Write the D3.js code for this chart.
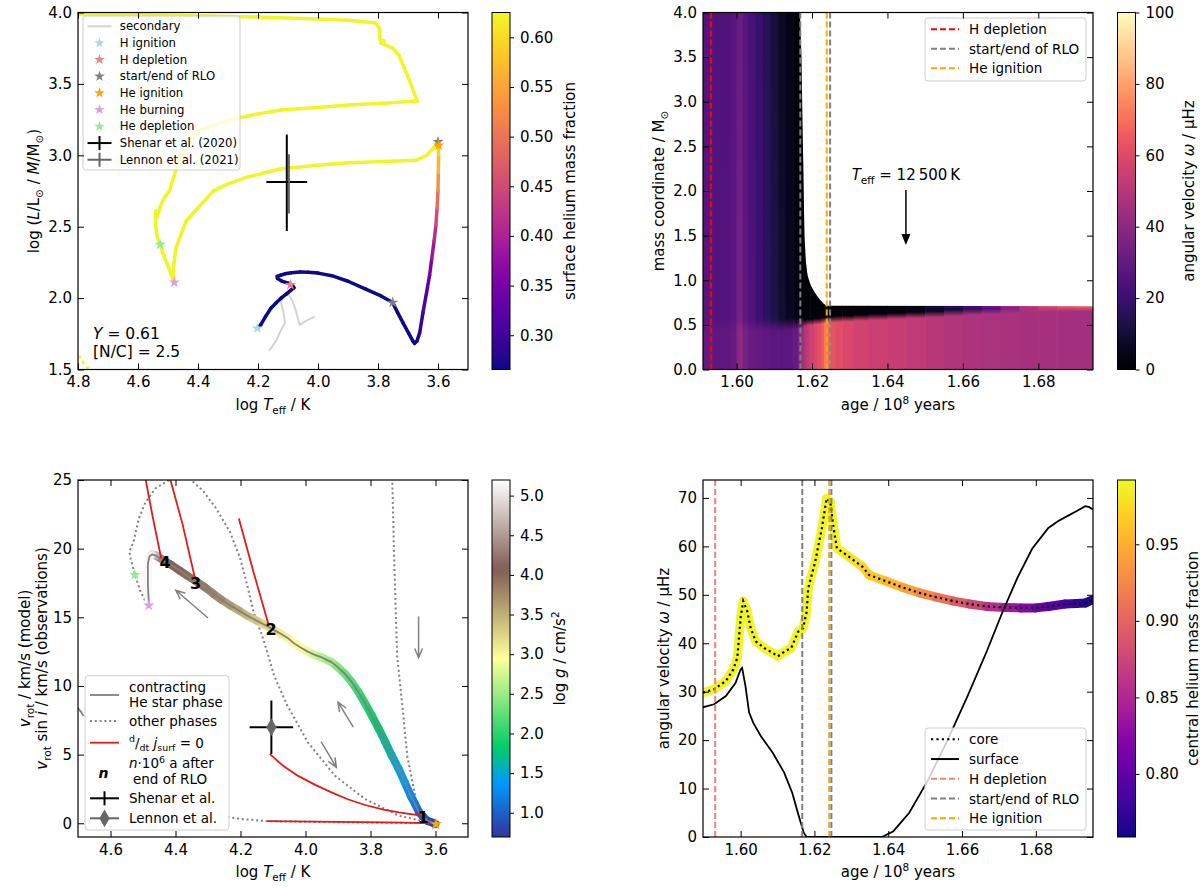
<!DOCTYPE html>
<html>
<head>
<meta charset="utf-8">
<script src="https://cdn.jsdelivr.net/npm/d3@7"></script>
<style>
  body { margin: 0; background: #fff; }
  svg { font-family: "DejaVu Sans", sans-serif; }
</style>
</head>
<body>
<script>
// ---------------- data: top-left (HR-like diagram) ----------------
var trackTeff = [4.202, 4.191, 4.175, 4.157, 4.140, 4.123, 4.105, 4.089, 4.080, 4.085,
  4.100, 4.120, 4.135, 4.136, 4.125, 4.110, 4.089, 4.060, 4.033, 4.000,
  3.954, 3.900, 3.841, 3.790, 3.751, 3.735, 3.717, 3.698, 3.684, 3.678,
  3.670, 3.661, 3.650, 3.638, 3.628, 3.621, 3.613, 3.607, 3.603, 3.600,
  3.599, 3.598, 3.599, 3.600, 3.608, 3.616, 3.638, 3.672, 3.800, 3.898,
  4.000, 4.123, 4.236, 4.300, 4.349, 4.383, 4.410, 4.439, 4.458, 4.473,
  4.480, 4.482, 4.479, 4.490, 4.505, 4.518, 4.526, 4.535, 4.541, 4.542,
  4.540, 4.538, 4.532, 4.522, 4.510, 4.495, 4.462, 4.430, 4.405, 4.350,
  4.293, 4.200, 4.123, 4.000, 3.898, 3.780, 3.669, 3.700, 3.730, 3.751,
  3.791, 3.779, 3.793, 3.796, 3.808, 3.900, 4.000, 4.200, 4.400, 4.600,
  4.800, 4.850];
var trackLM = [1.789, 1.812, 1.870, 1.929, 1.965, 2.000, 2.030, 2.058, 2.072, 2.088,
  2.105, 2.118, 2.138, 2.152, 2.160, 2.170, 2.178, 2.182, 2.181, 2.175,
  2.157, 2.118, 2.063, 2.015, 1.969, 1.900, 1.828, 1.755, 1.700, 1.683,
  1.700, 1.758, 1.900, 2.040, 2.160, 2.274, 2.400, 2.509, 2.630, 2.751,
  2.880, 3.000, 3.070, 3.090, 3.070, 3.047, 3.000, 2.965, 2.955, 2.948,
  2.930, 2.906, 2.847, 2.800, 2.751, 2.669, 2.610, 2.540, 2.440, 2.352,
  2.250, 2.187, 2.110, 2.170, 2.250, 2.320, 2.376, 2.420, 2.500, 2.570,
  2.610, 2.560, 2.600, 2.660, 2.710, 2.751, 2.977, 3.080, 3.165, 3.210,
  3.247, 3.290, 3.317, 3.335, 3.352, 3.365, 3.380, 3.550, 3.700, 3.751,
  3.787, 3.800, 3.810, 3.892, 3.927, 3.945, 3.955, 3.968, 3.978, 3.985,
  3.990, 3.992];
var trackYsurf = [0.266, 0.266, 0.266, 0.266, 0.266, 0.266, 0.266, 0.266, 0.266, 0.266,
  0.266, 0.266, 0.266, 0.266, 0.266, 0.266, 0.266, 0.266, 0.266, 0.266,
  0.266, 0.266, 0.266, 0.266, 0.266, 0.266, 0.266, 0.266, 0.266, 0.266,
  0.270, 0.280, 0.300, 0.320, 0.340, 0.370, 0.400, 0.430, 0.470, 0.510,
  0.550, 0.580, 0.600, 0.620, 0.622, 0.622, 0.622, 0.622, 0.622, 0.622,
  0.622, 0.622, 0.622, 0.622, 0.622, 0.622, 0.622, 0.622, 0.622, 0.622,
  0.622, 0.622, 0.622, 0.622, 0.622, 0.622, 0.622, 0.622, 0.622, 0.622,
  0.622, 0.622, 0.622, 0.622, 0.622, 0.622, 0.622, 0.622, 0.622, 0.622,
  0.622, 0.622, 0.622, 0.622, 0.622, 0.622, 0.622, 0.622, 0.622, 0.622,
  0.622, 0.622, 0.622, 0.622, 0.622, 0.622, 0.622, 0.622, 0.622, 0.622,
  0.622, 0.622];
var wdTeff = [4.794, 4.783, 4.768];
var wdLM = [1.589, 1.554, 1.514];
var secTeff = [4.163, 4.140, 4.123, 4.110, 4.115, 4.124, 4.112, 4.100, 4.085, 4.073, 4.061, 4.040, 4.011];
var secLM = [1.630, 1.700, 1.777, 1.824, 1.900, 1.976, 2.020, 2.035, 1.980, 1.906, 1.812, 1.840, 1.871];
var hrEventTeff = [4.202, 4.092, 3.751, 3.600, 3.598, 4.479, 4.526];
var hrEventLM = [1.789, 2.093, 1.969, 3.094, 3.070, 2.110, 2.376];
var hrEventKind = ["hIgn", "hDep", "rlo", "rlo", "heIgn", "heBurn", "heDep"];
// observations: [centre, lower, upper]
var shenarTeff = [4.104, 4.036, 4.172];
var shenarLM = [2.813, 2.470, 3.146];
var lennonTeff = [4.097, 4.097, 4.097];
var lennonLM = [2.800, 2.592, 3.007];
var tlLegendLabels = ["secondary", "H ignition", "H depletion", "start/end of RLO", "He ignition",
  "He burning", "He depletion", "Shenar et al. (2020)", "Lennon et al. (2021)"];

// ---------------- data: top-right (angular velocity map) ----------------
var heatEdges = [1.5911, 1.5935, 1.5960, 1.5985, 1.6000, 1.6008, 1.6016, 1.6030, 1.6050, 1.6070,
  1.6090, 1.6110, 1.6130, 1.6150, 1.6162, 1.6170, 1.6178, 1.6186, 1.6195, 1.6205,
  1.6215, 1.6225, 1.6232, 1.6240, 1.6250, 1.6262, 1.6280, 1.6310, 1.6350, 1.6400,
  1.6450, 1.6500, 1.6550, 1.6600, 1.6650, 1.6700, 1.6750, 1.6800, 1.6850, 1.6900, 1.6946];
var heatCoreOmega = [30, 29, 29, 31, 39, 41, 34, 31, 30, 29,
  28, 28, 28, 30, 35, 44, 49, 53, 56, 59,
  62, 66, 72, 70, 63, 61, 59, 57, 55, 54,
  52, 50.5, 49, 48, 47, 46.5, 46, 46, 45.5, 45.5];
var heatCoreEdge = [0.50, 0.50, 0.50, 0.50, 0.50, 0.50, 0.50, 0.50, 0.50, 0.50,
  0.50, 0.50, 0.51, 0.51, 0.52, 0.52, 0.52, 0.53, 0.53, 0.54,
  0.54, 0.55, 0.55, 0.56, 0.56, 0.565, 0.57, 0.58, 0.59, 0.60,
  0.61, 0.62, 0.635, 0.645, 0.655, 0.665, 0.672, 0.678, 0.683, 0.686];
var heatEnvOmega = [27, 26, 26, 28, 34, 35, 29, 25, 21, 17,
  13, 9, 6, 4, 3, 2, 2, 2, 2, 2,
  2, 2, 2, 2, 2, 2, 2, 2, 2, 2,
  3, 6, 10, 16, 24, 36, 48, 56, 61, 64];
var heatSurfOmega = [26, 25, 25, 27, 31, 32, 27, 23, 19, 15,
  11, 7, 4, 2, 1, 1, 1, 1, 1, 1,
  1, 1, 1, 1, 1, 1, 1, 1, 1, 2,
  5, 10, 16, 24, 34, 45, 54, 60, 64, 67];
var starAge = [1.5911, 1.6166, 1.6168, 1.6172, 1.6176, 1.6180, 1.6184, 1.6188, 1.6196, 1.6205,
  1.6215, 1.6226, 1.6237, 1.6946];
var starMass = [4.6, 4.6, 4.0, 3.5, 2.5, 1.5, 1.2, 1.06, 0.95, 0.88,
  0.815, 0.76, 0.715, 0.71];
var eventAgeTop = [1.5932, 1.6169, 1.6239, 1.6248];
var eventAgeBottom = [1.5931, 1.6167, 1.6240, 1.6246];
var eventKind = ["hDep", "rlo", "heIgn", "rlo"];

// ---------------- data: bottom-left (rotation velocity) ----------------
var conTeff = [3.600, 3.610, 3.624, 3.637, 3.650, 3.663, 3.676, 3.695, 3.713, 3.735,
  3.754, 3.775, 3.796, 3.817, 3.837, 3.858, 3.879, 3.900, 3.920, 3.952,
  3.975, 3.993, 4.015, 4.035, 4.055, 4.076, 4.095, 4.113, 4.150, 4.180,
  4.205, 4.232, 4.260, 4.284, 4.310, 4.341, 4.365, 4.388, 4.415, 4.445,
  4.461, 4.472, 4.480, 4.485, 4.485, 4.482];
var conVrot = [-0.05, 0.05, 0.17, 0.45, 0.78, 1.40, 2.00, 3.00, 3.95, 4.95,
  5.90, 6.90, 7.85, 8.75, 9.55, 10.30, 10.89, 11.35, 11.74, 12.10,
  12.30, 12.50, 12.80, 13.10, 13.50, 13.80, 14.05, 14.30, 14.75, 15.13,
  15.50, 15.87, 16.30, 16.72, 17.20, 17.69, 18.05, 18.42, 18.85, 19.27,
  19.50, 19.58, 19.45, 18.90, 17.44, 15.98];
var conLogg = [0.75, 0.80, 0.85, 0.90, 1.00, 1.10, 1.20, 1.35, 1.45, 1.55,
  1.65, 1.75, 1.85, 1.95, 2.05, 2.15, 2.25, 2.35, 2.45, 2.60,
  2.70, 2.80, 2.90, 2.95, 3.00, 3.05, 3.10, 3.15, 3.30, 3.40,
  3.50, 3.60, 3.70, 3.80, 3.85, 3.90, 3.95, 4.00, 4.05, 4.15,
  4.50, 4.90, 5.10, 5.15, 5.15, 5.15];
var otherA = {teff: [4.400, 4.419, 4.461, 4.492, 4.513, 4.529, 4.542, 4.538, 4.525, 4.508, 4.487],
  vrot: [25.5, 25.0, 24.4, 23.4, 22.2, 20.5, 19.8, 19.3, 18.1, 16.9, 15.9]};
var otherB = {teff: [4.360, 4.352, 4.315, 4.274, 4.232, 4.201, 4.180, 4.160, 4.134, 4.113, 4.097, 4.056, 3.993, 3.910, 3.817, 3.713, 3.619, 3.600],
  vrot: [25.5, 25.0, 24.2, 22.9, 21.2, 19.3, 17.4, 15.4, 13.7, 12.1, 10.77, 8.58, 5.90, 3.47, 1.77, 0.55, 0.06, 0.0]};
var otherC = {teff: [3.735, 3.733, 3.728, 3.723, 3.718, 3.702, 3.687, 3.660, 3.630, 3.600],
  vrot: [25.5, 25.0, 20.0, 16.0, 12.2, 8.55, 4.90, 1.73, 0.15, 0.0]};
var otherD = {teff: [4.240, 4.200, 4.118, 3.900, 3.700, 3.600],
  vrot: [0.45, 0.32, 0.15, 0.08, 0.03, 0.0]};
var edgePiece = {teff: [4.705, 4.690, 4.683], vrot: [8.5, 8.1, 7.8]};
var jLines = [
  {teff: [4.494, 4.470, 4.444], vrot: [25.3, 22.3, 19.3]},
  {teff: [4.419, 4.378, 4.341], vrot: [25.3, 21.75, 17.94]},
  {teff: [4.205, 4.160, 4.113], vrot: [22.2, 18.3, 14.4]},
  {teff: [4.110, 4.070, 4.024, 3.970, 3.920, 3.870, 3.817, 3.760, 3.713, 3.670, 3.640],
   vrot: [5.05, 4.20, 3.47, 2.80, 2.25, 1.75, 1.33, 1.00, 0.79, 0.65, 0.55]},
  {teff: [4.118, 3.900, 3.700, 3.600], vrot: [0.15, 0.10, 0.05, 0.0]}
];
var runTeff = [3.638, 4.106, 4.338, 4.432];
var runVrot = [0.42, 14.11, 17.47, 18.99];
var runLabel = ["1", "2", "3", "4"];
// direction arrows: [teff0, v0, teff1, v1]
var dirArrows = [[4.300, 14.95, 4.399, 16.97], [3.652, 15.05, 3.652, 12.06],
  [3.853, 7.00, 3.900, 8.82], [3.952, 5.95, 3.905, 4.07]];
var vrEventTeff = [4.525, 4.482, 3.600, 3.598];
var vrEventV = [18.10, 15.87, -0.05, -0.08];
var vrEventKind = ["heDep", "heBurn", "rlo", "heIgn"];
var shenarVTeff = [4.105, 4.038, 4.172];
var shenarV = [7.0, 5.05, 8.94];
var lennonV = [4.105, 7.0];

// ---------------- data: bottom-right (core / surface rotation) ----------------
var coreAge = [1.5898, 1.5928, 1.5960, 1.5980, 1.5991, 1.6000, 1.6007, 1.6018, 1.6027, 1.6041,
  1.6064, 1.6087, 1.6101, 1.6119, 1.6137, 1.6156, 1.6169, 1.6179, 1.6183, 1.6202,
  1.6220, 1.6233, 1.6243, 1.6252, 1.6261, 1.6293, 1.6330, 1.6348, 1.6394, 1.6440,
  1.6485, 1.6530, 1.6577, 1.6620, 1.6668, 1.6715, 1.6760, 1.6800, 1.6834, 1.6879,
  1.6910, 1.6934, 1.6955];
var coreOmega = [29.8, 30.5, 32.2, 34.6, 37.0, 45.3, 48.7, 46.6, 43.2, 40.4,
  39.0, 38.0, 37.3, 38.3, 39.0, 42.4, 43.1, 46.5, 51.3, 56.8,
  63.7, 69.9, 69.2, 63.7, 59.6, 57.9, 55.8, 54.1, 52.8, 51.5,
  50.4, 49.5, 48.7, 48.1, 47.6, 47.4, 47.3, 47.3, 47.6, 48.1,
  48.2, 48.3, 49.0];
var coreHe = [0.99, 0.99, 0.99, 0.99, 0.99, 0.99, 0.99, 0.99, 0.99, 0.99,
  0.99, 0.99, 0.99, 0.99, 0.99, 0.99, 0.99, 0.99, 0.99, 0.99,
  0.99, 0.99, 0.99, 0.99, 0.99, 0.985, 0.975, 0.97, 0.96, 0.95,
  0.935, 0.92, 0.90, 0.885, 0.865, 0.845, 0.83, 0.815, 0.80, 0.79,
  0.78, 0.772, 0.765];
var surfAge = [1.5894, 1.5928, 1.5960, 1.5986, 1.6000, 1.6004, 1.6013, 1.6023, 1.6034, 1.6055,
  1.6087, 1.6118, 1.6140, 1.6155, 1.6171, 1.6179, 1.6383, 1.6414, 1.6457, 1.6509,
  1.6562, 1.6615, 1.6668, 1.6710, 1.6750, 1.6790, 1.6834, 1.6860, 1.6889, 1.6911,
  1.6934, 1.6945, 1.6955];
var surfOmega = [26.7, 27.4, 29.1, 31.8, 34.6, 34.9, 31.2, 25.7, 23.6, 20.8,
  17.4, 13.3, 9.1, 5.0, 0.9, 0.0, 0.0, 1.2, 5.0, 11.9,
  20.2, 29.1, 38.5, 46.5, 53.5, 59.5, 63.8, 65.2, 66.4, 67.3,
  68.3, 68.1, 67.6];

// ---------------- styles ----------------
var kindColor = {hIgn: "#add8e6", hDep: "#f08080", rlo: "#808080", heIgn: "#ffa500",
  heBurn: "#dda0dd", heDep: "#90ee90"};
var FS = 15;

var svg = d3.select("body").append("svg").attr("width", 1200).attr("height", 889);
var defs = svg.append("defs");

// terrain colormap (matplotlib)
var terrain = d3.scaleLinear()
  .domain([0, 0.15, 0.25, 0.5, 0.75, 1])
  .range(["rgb(51,51,153)", "rgb(0,153,255)", "rgb(0,204,102)", "rgb(255,255,153)", "rgb(128,92,84)", "rgb(255,255,255)"])
  .interpolate(d3.interpolateRgb);

// rich text helper: parts {t, it, sub, sup, b}
function rich(text, parts, fs) {
  var shift = 0;
  parts.forEach(function(p) {
    var target = p.sub ? fs * 0.28 : (p.sup ? -fs * 0.4 : 0);
    var ts = text.append("tspan").text(p.t).attr("dy", target - shift);
    shift = target;
    if (p.sub || p.sup) ts.attr("font-size", fs * 0.7);
    if (p.it) ts.attr("font-style", "italic");
    if (p.b) ts.attr("font-weight", "bold");
  });
  return text;
}

function makePanel(id, box, xDom, yDom) {
  var x = d3.scaleLinear().domain(xDom).range([0, box.w]);
  var y = d3.scaleLinear().domain(yDom).range([box.h, 0]);
  var g = svg.append("g").attr("transform", `translate(${box.left},${box.top})`);
  defs.append("clipPath").attr("id", "clip-" + id)
    .append("rect").attr("width", box.w).attr("height", box.h);
  var plot = g.append("g").attr("clip-path", `url(#clip-${id})`);
  return {x: x, y: y, g: g, plot: plot, box: box};
}

function styleTicks(ax) {
  ax.selectAll(".domain").remove();
  ax.selectAll(".tick line").attr("stroke", "#000").attr("stroke-width", 1);
  ax.selectAll(".tick text").attr("fill", "#000")
    .attr("font-size", FS).attr("font-family", "DejaVu Sans");
}

function drawAxes(p, xTicks, yTicks, xFmt, yFmt) {
  var ax = p.g.append("g");
  ax.append("g").attr("transform", `translate(0,${p.box.h})`)
    .call(d3.axisBottom(p.x).tickValues(xTicks).tickFormat(d3.format(xFmt)).tickSize(-6).tickPadding(7));
  ax.append("g").call(d3.axisTop(p.x).tickValues(xTicks).tickFormat("").tickSize(-6));
  ax.append("g").call(d3.axisLeft(p.y).tickValues(yTicks).tickFormat(d3.format(yFmt)).tickSize(-6).tickPadding(6));
  ax.append("g").attr("transform", `translate(${p.box.w},0)`)
    .call(d3.axisRight(p.y).tickValues(yTicks).tickFormat("").tickSize(-6));
  styleTicks(ax);
  p.g.append("rect").attr("width", p.box.w).attr("height", p.box.h)
    .attr("fill", "none").attr("stroke", "#000").attr("stroke-width", 1.2);
}

function xLabel(p, parts) {
  var t = p.g.append("text").attr("x", p.box.w / 2).attr("y", p.box.h + 40)
    .attr("text-anchor", "middle").attr("font-size", FS);
  rich(t, parts, FS);
}

function vLabel(cx, cy, parts) {
  var t = svg.append("text").attr("transform", `translate(${cx},${cy}) rotate(-90)`)
    .attr("text-anchor", "middle").attr("font-size", FS);
  rich(t, parts, FS);
}

function colorbar(id, box, domain, interp, ticks, fmt) {
  var grad = defs.append("linearGradient").attr("id", id)
    .attr("x1", 0).attr("y1", 1).attr("x2", 0).attr("y2", 0);
  d3.range(0, 1.0001, 0.02).forEach(function(t) {
    grad.append("stop").attr("offset", t).attr("stop-color", interp(t));
  });
  var g = svg.append("g").attr("transform", `translate(${box.left},${box.top})`);
  g.append("rect").attr("width", box.w).attr("height", box.h).attr("fill", `url(#${id})`);
  var s = d3.scaleLinear().domain(domain).range([box.h, 0]);
  var ax = g.append("g").attr("transform", `translate(${box.w},0)`)
    .call(d3.axisRight(s).tickValues(ticks).tickFormat(d3.format(fmt)).tickSize(4).tickPadding(6));
  styleTicks(ax);
  g.append("rect").attr("width", box.w).attr("height", box.h)
    .attr("fill", "none").attr("stroke", "#000").attr("stroke-width", 1);
}

function star(g, px, py, color, size) {
  g.append("path").attr("d", d3.symbol().type(d3.symbolStar).size(size)())
    .attr("transform", `translate(${px},${py})`).attr("fill", color);
}

function colorSegments(g, xs, ys, vs, p, color, width) {
  for (var i = 0; i < xs.length - 1; i++) {
    g.append("line")
      .attr("x1", p.x(xs[i])).attr("y1", p.y(ys[i]))
      .attr("x2", p.x(xs[i + 1])).attr("y2", p.y(ys[i + 1]))
      .attr("stroke", color((vs[i] + vs[i + 1]) / 2))
      .attr("stroke-width", width).attr("stroke-linecap", "round");
  }
}

function legendBox(g, x, y, w, h) {
  g.append("rect").attr("x", x).attr("y", y).attr("width", w).attr("height", h).attr("rx", 3)
    .attr("fill", "#fff").attr("fill-opacity", 0.8).attr("stroke", "#cccccc").attr("stroke-width", 1);
}

function cross(g, cx, cy, x0, x1, y0, y1, color, w) {
  g.append("line").attr("x1", x0).attr("x2", x1).attr("y1", cy).attr("y2", cy).attr("stroke", color).attr("stroke-width", w);
  g.append("line").attr("x1", cx).attr("x2", cx).attr("y1", y0).attr("y2", y1).attr("stroke", color).attr("stroke-width", w);
}

function lineOf(p) {
  return d3.line().x(function(d) { return p.x(d[0]); }).y(function(d) { return p.y(d[1]); });
}

// =============== panel 1: top-left ===============
var p1 = makePanel("p1", {left: 78, top: 12.5, w: 390, h: 357}, [4.8, 3.5], [1.5, 4.0]);
var plasmaTop = d3.scaleSequential(d3.interpolatePlasma).domain([0.2655, 0.625]);

p1.plot.append("path").datum(d3.zip(secTeff, secLM)).attr("d", lineOf(p1))
  .attr("fill", "none").attr("stroke", "#d3d3d3").attr("stroke-width", 2);
colorSegments(p1.plot, trackTeff, trackLM, trackYsurf, p1, plasmaTop, 3.5);
p1.plot.selectAll(".wd").data(d3.zip(wdTeff, wdLM)).enter().append("circle")
  .attr("cx", function(d) { return p1.x(d[0]); }).attr("cy", function(d) { return p1.y(d[1]); })
  .attr("r", 1.6).attr("fill", "#f0f921");

// observations
cross(p1.plot, p1.x(shenarTeff[0]), p1.y(shenarLM[0]), p1.x(shenarTeff[1]), p1.x(shenarTeff[2]),
  p1.y(shenarLM[1]), p1.y(shenarLM[2]), "#000", 2);
cross(p1.plot, p1.x(lennonTeff[0]), p1.y(lennonLM[0]), p1.x(lennonTeff[1]), p1.x(lennonTeff[2]),
  p1.y(lennonLM[1]), p1.y(lennonLM[2]), "#666", 2);

hrEventTeff.forEach(function(t, i) {
  star(p1.plot, p1.x(t), p1.y(hrEventLM[i]), kindColor[hrEventKind[i]], 40);
});

var yt = p1.g.append("text").attr("x", 15).attr("y", 326).attr("font-size", 15.5);
rich(yt, [{t: "Y", it: true}, {t: " = 0.61"}], 15.5);
p1.g.append("text").attr("x", 15).attr("y", 344).attr("font-size", 15.5).text("[N/C] = 2.5");

// legend
(function() {
  var lg = p1.g.append("g").attr("font-size", 11.7);
  legendBox(lg, 5, 3.5, 157, 154);
  var kinds = ["", "hIgn", "hDep", "rlo", "heIgn", "heBurn", "heDep"];
  tlLegendLabels.forEach(function(lab, i) {
    var cy = 13.8 + i * 16.68;
    var hx = 21.5;
    if (i === 0) {
      lg.append("line").attr("x1", 9.5).attr("x2", 33.5).attr("y1", cy).attr("y2", cy)
        .attr("stroke", "#d3d3d3").attr("stroke-width", 2);
    } else if (i <= 6) {
      star(lg, hx, cy, kindColor[kinds[i]], 36);
    } else {
      var c = i === 7 ? "#000" : "#666";
      cross(lg, hx, cy, 9.5, 33.5, cy - 7, cy + 7, c, 2);
    }
    lg.append("text").attr("x", 41.8).attr("y", cy).attr("dominant-baseline", "central").text(lab);
  });
})();

drawAxes(p1, [4.8, 4.6, 4.4, 4.2, 4.0, 3.8, 3.6], [1.5, 2.0, 2.5, 3.0, 3.5, 4.0], ".1f", ".1f");
xLabel(p1, [{t: "log "}, {t: "T", it: true}, {t: "eff", sub: true}, {t: " / K"}]);
vLabel(38.5, 191, [{t: "log ("}, {t: "L", it: true}, {t: "/L"}, {t: "⊙", sub: true}, {t: " / "},
  {t: "M", it: true}, {t: "/M"}, {t: "⊙", sub: true}, {t: ")"}]);
colorbar("cb1", {left: 492, top: 12.5, w: 18, h: 357}, [0.2655, 0.625], d3.interpolatePlasma,
  [0.30, 0.35, 0.40, 0.45, 0.50, 0.55, 0.60], ".2f");
vLabel(574.5, 191, [{t: "surface helium mass fraction"}]);

// =============== panel 2: top-right ===============
var p2 = makePanel("p2", {left: 703, top: 12.5, w: 390, h: 357}, [1.5911, 1.6945], [0, 4]);
var magma = d3.scaleSequential(d3.interpolateMagma).domain([0, 100]);
var massAt = d3.scaleLinear().domain(starAge).range(starMass);

defs.append("clipPath").attr("id", "clip-star").append("path")
  .attr("d", d3.area()
    .x(function(d) { return p2.x(d[0]); })
    .y0(p2.y(0))
    .y1(function(d) { return p2.y(Math.min(d[1], 4.6)); })(d3.zip(starAge, starMass)));

var heat = p2.plot.append("g").attr("clip-path", "url(#clip-star)");
heatCoreOmega.forEach(function(core, i) {
  var a0 = heatEdges[i], a1 = heatEdges[i + 1];
  var top = Math.min(4, massAt((a0 + a1) / 2));
  var edge = heatCoreEdge[i];
  var half = top > 2 ? 0.07 : 0.035;
  var lo = Math.max(0, edge - half);
  var hi = Math.min(edge + half, (edge + top) / 2);
  var gid = "hc" + i;
  var gr = defs.append("linearGradient").attr("id", gid).attr("gradientUnits", "userSpaceOnUse")
    .attr("x1", 0).attr("x2", 0).attr("y1", p2.y(0)).attr("y2", p2.y(4));
  [[0, core], [lo, core], [hi, heatEnvOmega[i]], [top, heatSurfOmega[i]], [4, heatSurfOmega[i]]]
    .forEach(function(s) {
      gr.append("stop").attr("offset", s[0] / 4).attr("stop-color", magma(s[1]));
    });
  heat.append("rect")
    .attr("x", p2.x(a0)).attr("width", p2.x(a1) - p2.x(a0) + 0.6)
    .attr("y", 0).attr("height", p2.box.h)
    .attr("fill", `url(#${gid})`);
});

var topLineColor = {hDep: "#ff0000", rlo: "#808080", heIgn: "#ffa500"};
eventAgeTop.forEach(function(a, i) {
  p2.plot.append("line").attr("x1", p2.x(a)).attr("x2", p2.x(a)).attr("y1", 0).attr("y2", p2.box.h)
    .attr("stroke", topLineColor[eventKind[i]]).attr("stroke-width", 2).attr("stroke-dasharray", "6,3");
});

// annotation arrow
(function() {
  var ax = p2.x(1.6449), ya = p2.y(2.01), yb = p2.y(1.395);
  p2.g.append("line").attr("x1", ax).attr("x2", ax).attr("y1", ya).attr("y2", yb - 10)
    .attr("stroke", "#000").attr("stroke-width", 1.5);
  p2.g.append("path").attr("d", `M${ax - 4.5},${yb - 11} L${ax + 4.5},${yb - 11} L${ax},${yb} Z`).attr("fill", "#000");
  var t = p2.g.append("text").attr("x", ax).attr("y", p2.y(2.12)).attr("text-anchor", "middle").attr("font-size", 15);
  rich(t, [{t: "T", it: true}, {t: "eff", sub: true}, {t: " = 12\u2009500\u2009K"}], 15);
})();

(function() {
  var lg = p2.g.append("g").attr("font-size", 13.5);
  legendBox(lg, 222, 5.5, 161, 63);
  var labs = ["H depletion", "start/end of RLO", "He ignition"];
  var cols = ["#ff0000", "#808080", "#ffa500"];
  labs.forEach(function(lab, i) {
    var cy = 16.8 + i * 19.5;
    lg.append("line").attr("x1", 228).attr("x2", 256).attr("y1", cy).attr("y2", cy)
      .attr("stroke", cols[i]).attr("stroke-width", 2).attr("stroke-dasharray", "6,3");
    lg.append("text").attr("x", 266).attr("y", cy).attr("dominant-baseline", "central").text(lab);
  });
})();

drawAxes(p2, [1.60, 1.62, 1.64, 1.66, 1.68], [0, 0.5, 1.0, 1.5, 2.0, 2.5, 3.0, 3.5, 4.0], ".2f", ".1f");
xLabel(p2, [{t: "age / 10"}, {t: "8", sup: true}, {t: " years"}]);
vLabel(663.5, 191, [{t: "mass coordinate / M"}, {t: "⊙", sub: true}]);
colorbar("cb2", {left: 1117.5, top: 12.5, w: 18, h: 357}, [0, 100], d3.interpolateMagma,
  [0, 20, 40, 60, 80, 100], "d");
vLabel(1194, 191, [{t: "angular velocity "}, {t: "ω", it: true}, {t: " / μHz"}]);

// =============== panel 3: bottom-left ===============
var p3 = makePanel("p3", {left: 78, top: 480, w: 390, h: 357}, [4.7, 3.5], [-1, 25]);
var terrainG = d3.scaleLinear().domain([0.694, 5.197]).range([0, 1]).clamp(true);

function dotted(obj, color) {
  p3.plot.append("path").datum(d3.zip(obj.teff, obj.vrot)).attr("d", lineOf(p3))
    .attr("fill", "none").attr("stroke", color).attr("stroke-width", 2)
    .attr("stroke-dasharray", "2,2.8");
}
[otherA, otherB, otherC, otherD].forEach(function(o) { dotted(o, "#808080"); });
p3.plot.append("path").datum(d3.zip(edgePiece.teff, edgePiece.vrot)).attr("d", lineOf(p3))
  .attr("fill", "none").attr("stroke", "#808080").attr("stroke-width", 1.8);

colorSegments(p3.plot, conTeff, conVrot, conLogg, p3,
  function(v) { return terrain(terrainG(v)); }, 8);
p3.plot.append("path").datum(d3.zip(conTeff, conVrot)).attr("d", lineOf(p3))
  .attr("fill", "none").attr("stroke", "#808080").attr("stroke-width", 1.8);

jLines.forEach(function(o) {
  p3.plot.append("path").datum(d3.zip(o.teff, o.vrot)).attr("d", lineOf(p3))
    .attr("fill", "none").attr("stroke", "#e31a1c").attr("stroke-width", 1.8);
});

dirArrows.forEach(function(a) {
  var x0 = p3.x(a[0]), y0 = p3.y(a[1]), x1 = p3.x(a[2]), y1 = p3.y(a[3]);
  var ang = Math.atan2(y1 - y0, x1 - x0), L = 10, s = 0.4;
  p3.plot.append("path")
    .attr("d", `M${x0},${y0} L${x1},${y1} M${x1 - L * Math.cos(ang - s)},${y1 - L * Math.sin(ang - s)} L${x1},${y1} L${x1 - L * Math.cos(ang + s)},${y1 - L * Math.sin(ang + s)}`)
    .attr("fill", "none").attr("stroke", "#808080").attr("stroke-width", 1.5);
});

cross(p3.plot, p3.x(shenarVTeff[0]), p3.y(shenarV[0]), p3.x(shenarVTeff[1]), p3.x(shenarVTeff[2]),
  p3.y(shenarV[1]), p3.y(shenarV[2]), "#000", 2);
p3.plot.append("path").attr("d", d3.symbol().type(d3.symbolDiamond).size(90)())
  .attr("transform", `translate(${p3.x(lennonV[0])},${p3.y(lennonV[1])})`)
  .attr("fill", "#666");

vrEventTeff.forEach(function(t, i) {
  star(p3.plot, p3.x(t), p3.y(vrEventV[i]), kindColor[vrEventKind[i]], 40);
});

runLabel.forEach(function(lab, i) {
  p3.plot.append("text").attr("x", p3.x(runTeff[i])).attr("y", p3.y(runVrot[i]))
    .attr("text-anchor", "middle").attr("dominant-baseline", "central")
    .attr("font-size", 16).attr("font-weight", "bold").text(lab);
});

(function() {
  var lg = p3.g.append("g").attr("font-size", 13.5);
  legendBox(lg, 7, 195.7, 144, 154.3);
  var hx0 = 12, hx1 = 41, tx = 51;
  lg.append("line").attr("x1", hx0).attr("x2", hx1).attr("y1", 215).attr("y2", 215)
    .attr("stroke", "#808080").attr("stroke-width", 1.8);
  lg.append("text").attr("x", tx).attr("y", 206.7).attr("dominant-baseline", "central").text("contracting");
  lg.append("text").attr("x", tx).attr("y", 221.7).attr("dominant-baseline", "central").text("He star phase");
  lg.append("line").attr("x1", hx0).attr("x2", hx1).attr("y1", 241).attr("y2", 241)
    .attr("stroke", "#808080").attr("stroke-width", 2).attr("stroke-dasharray", "2,2.8");
  lg.append("text").attr("x", tx).attr("y", 241).attr("dominant-baseline", "central").text("other phases");
  lg.append("line").attr("x1", hx0).attr("x2", hx1).attr("y1", 262.7).attr("y2", 262.7)
    .attr("stroke", "#e31a1c").attr("stroke-width", 1.8);
  var dt = lg.append("text").attr("x", tx).attr("y", 267.5);
  rich(dt, [{t: "d", sup: true}, {t: "/"}, {t: "dt", sub: true}, {t: " "}, {t: "j", it: true},
    {t: "surf", sub: true}, {t: " = 0"}], 13.5);
  lg.append("text").attr("x", 25.5).attr("y", 293.3).attr("text-anchor", "middle")
    .attr("dominant-baseline", "central").attr("font-weight", "bold").attr("font-style", "italic")
    .attr("font-size", 14).text("n");
  var nt = lg.append("text").attr("x", tx).attr("y", 288);
  rich(nt, [{t: "n", it: true}, {t: "·10"}, {t: "6", sup: true}, {t: " a after"}], 13.5);
  lg.append("text").attr("x", tx + 4).attr("y", 299).attr("dominant-baseline", "central").text("end of RLO");
  cross(lg, 26.5, 318.3, hx0, hx1, 311.3, 325.3, "#000", 2);
  lg.append("text").attr("x", tx).attr("y", 318.3).attr("dominant-baseline", "central").text("Shenar et al.");
  lg.append("line").attr("x1", hx0).attr("x2", hx1).attr("y1", 338.3).attr("y2", 338.3)
    .attr("stroke", "#666").attr("stroke-width", 2);
  lg.append("path").attr("d", d3.symbol().type(d3.symbolDiamond).size(90)())
    .attr("transform", "translate(26.5,338.3)").attr("fill", "#666");
  lg.append("text").attr("x", tx).attr("y", 338.3).attr("dominant-baseline", "central").text("Lennon et al.");
})();

drawAxes(p3, [4.6, 4.4, 4.2, 4.0, 3.8, 3.6], [0, 5, 10, 15, 20, 25], ".1f", "d");
xLabel(p3, [{t: "log "}, {t: "T", it: true}, {t: "eff", sub: true}, {t: " / K"}]);
vLabel(30, 658.5, [{t: "v", it: true}, {t: "rot", sub: true}, {t: " / km/s (model)"}]);
vLabel(47, 658.5, [{t: "v", it: true}, {t: "rot", sub: true}, {t: " sin "}, {t: "i", it: true},
  {t: " / km/s (observations)"}]);
colorbar("cb3", {left: 492, top: 480, w: 18, h: 357}, [0.694, 5.197], terrain,
  [1.0, 1.5, 2.0, 2.5, 3.0, 3.5, 4.0, 4.5, 5.0], ".1f");
vLabel(565, 658.5, [{t: "log "}, {t: "g", it: true}, {t: " / cm/s"}, {t: "2", sup: true}]);

// =============== panel 4: bottom-right ===============
var p4 = makePanel("p4", {left: 703, top: 480, w: 390, h: 357}, [1.5898, 1.6955], [0, 73.7]);
var plasmaBot = d3.scaleSequential(d3.interpolatePlasma).domain([0.7588, 0.992]);

colorSegments(p4.plot, coreAge, coreOmega, coreHe, p4, plasmaBot, 9);
p4.plot.append("path").datum(d3.zip(coreAge, coreOmega)).attr("d", lineOf(p4))
  .attr("fill", "none").attr("stroke", "#000").attr("stroke-width", 2.2).attr("stroke-dasharray", "2.2,3.2");
p4.plot.append("path").datum(d3.zip(surfAge, surfOmega)).attr("d", lineOf(p4))
  .attr("fill", "none").attr("stroke", "#000").attr("stroke-width", 1.8);

var botLineColor = {hDep: "#f47f7f", rlo: "#808080", heIgn: "#ffa500"};
eventAgeBottom.forEach(function(a, i) {
  p4.plot.append("line").attr("x1", p4.x(a)).attr("x2", p4.x(a)).attr("y1", 0).attr("y2", p4.box.h)
    .attr("stroke", botLineColor[eventKind[i]]).attr("stroke-width", 2).attr("stroke-dasharray", "6,3");
});

(function() {
  var lg = p4.g.append("g").attr("font-size", 13.5);
  legendBox(lg, 222, 248, 161, 102);
  var labs = ["core", "surface", "H depletion", "start/end of RLO", "He ignition"];
  var cols = ["#000", "#000", "#f47f7f", "#808080", "#ffa500"];
  var dash = ["2.2,3.2", null, "6,3", "6,3", "6,3"];
  labs.forEach(function(lab, i) {
    var cy = 259.3 + i * 19.75;
    var ln = lg.append("line").attr("x1", 228).attr("x2", 256).attr("y1", cy).attr("y2", cy)
      .attr("stroke", cols[i]).attr("stroke-width", 2);
    if (dash[i]) ln.attr("stroke-dasharray", dash[i]);
    lg.append("text").attr("x", 266).attr("y", cy).attr("dominant-baseline", "central").text(lab);
  });
})();

drawAxes(p4, [1.60, 1.62, 1.64, 1.66, 1.68], [0, 10, 20, 30, 40, 50, 60, 70], ".2f", "d");
xLabel(p4, [{t: "age / 10"}, {t: "8", sup: true}, {t: " years"}]);
vLabel(669, 658.5, [{t: "angular velocity "}, {t: "ω", it: true}, {t: " / μHz"}]);
colorbar("cb4", {left: 1117.5, top: 480, w: 18, h: 357}, [0.7588, 0.992], d3.interpolatePlasma,
  [0.80, 0.85, 0.90, 0.95], ".2f");
vLabel(1197.5, 658.5, [{t: "central helium mass fraction"}]);
</script>
</body>
</html>
